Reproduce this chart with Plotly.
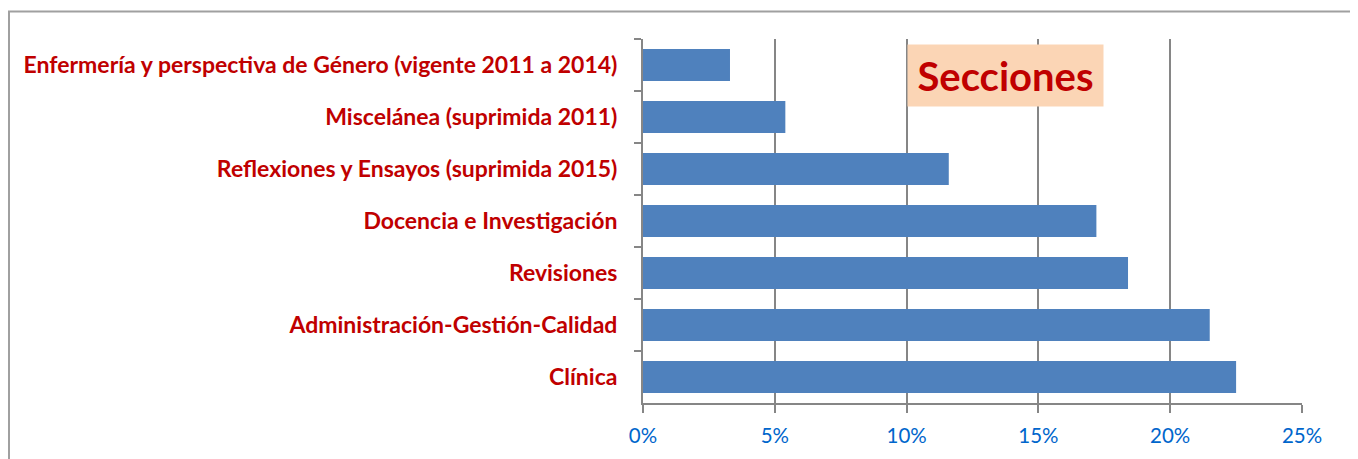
import plotly.graph_objects as go

categories = [
    "Enfermería y perspectiva de Género (vigente 2011 a 2014)",
    "Miscelánea (suprimida 2011)",
    "Reflexiones y Ensayos (suprimida 2015)",
    "Docencia e Investigación",
    "Revisiones",
    "Administración-Gestión-Calidad",
    "Clínica",
]
values = [0.033, 0.054, 0.116, 0.172, 0.184, 0.215, 0.225]
title_text = "Secciones"

# the page body has an 8px margin; positions below are screen pixels
OFF = 8
W, H = 1358 - OFF, 459 - OFF
SL, SR, ST, SB = 643, 1302, 39, 409  # plot area in screen pixels
L, R, T, B = SL - OFF, W - (SR - OFF), ST - OFF, H - (SB - OFF)
pw = W - L - R
ph = H - T - B

def px_x(p):
    return (p - OFF - L) / pw

def px_y(p):
    return (H - B - (p - OFF)) / ph

fig = go.Figure(go.Bar(
    x=values, y=categories, orientation="h",
    marker=dict(color="#4F81BD", line=dict(width=0)),
    width=0.62,
))

fig.update_layout(
    width=W, height=H,
    margin=dict(l=L, r=R, t=T, b=B),
    paper_bgcolor="white", plot_bgcolor="white",
    showlegend=False,
    font=dict(family="Lato, Liberation Sans, sans-serif"),
)
fig.update_xaxes(
    range=[0, 0.25], dtick=0.05, tickformat=".0%",
    showgrid=True, gridcolor="#868686", gridwidth=1.5,
    showline=True, linecolor="#868686", linewidth=2,
    ticks="outside", ticklen=8, tickcolor="#868686", tickwidth=1.5,
    tickfont=dict(color="#0066CC", size=20.5, family="Lato, sans-serif"),
    ticklabelstandoff=5,
    zeroline=False,
)
fig.update_yaxes(
    autorange="reversed",
    showline=True, linecolor="#868686", linewidth=2,
    ticks="outside", ticklen=7, tickcolor="#868686", tickwidth=1.5,
    tickson="boundaries",
    ticklabelstandoff=19,
    tickfont=dict(color="#C00000", size=23, family="Lato, sans-serif", weight="bold"),
    showgrid=False,
)

# outer chart frame
fig.add_shape(type="rect", xref="paper", yref="paper",
              x0=px_x(9), x1=px_x(1352), y0=px_y(480), y1=px_y(11),
              line=dict(color="#A0A0A0", width=2), fillcolor="rgba(0,0,0,0)", layer="below")

fig.add_annotation(
    xref="paper", yref="paper",
    x=px_x(1005.5), y=px_y(76), xanchor="center", yanchor="middle",
    text="<b>" + title_text + "</b>", showarrow=False,
    font=dict(color="#C00000", size=40, family="Lato, sans-serif"),
    bgcolor="#FBD5B5", width=195, height=61, borderpad=0,
)

fig.write_html("out.html")
